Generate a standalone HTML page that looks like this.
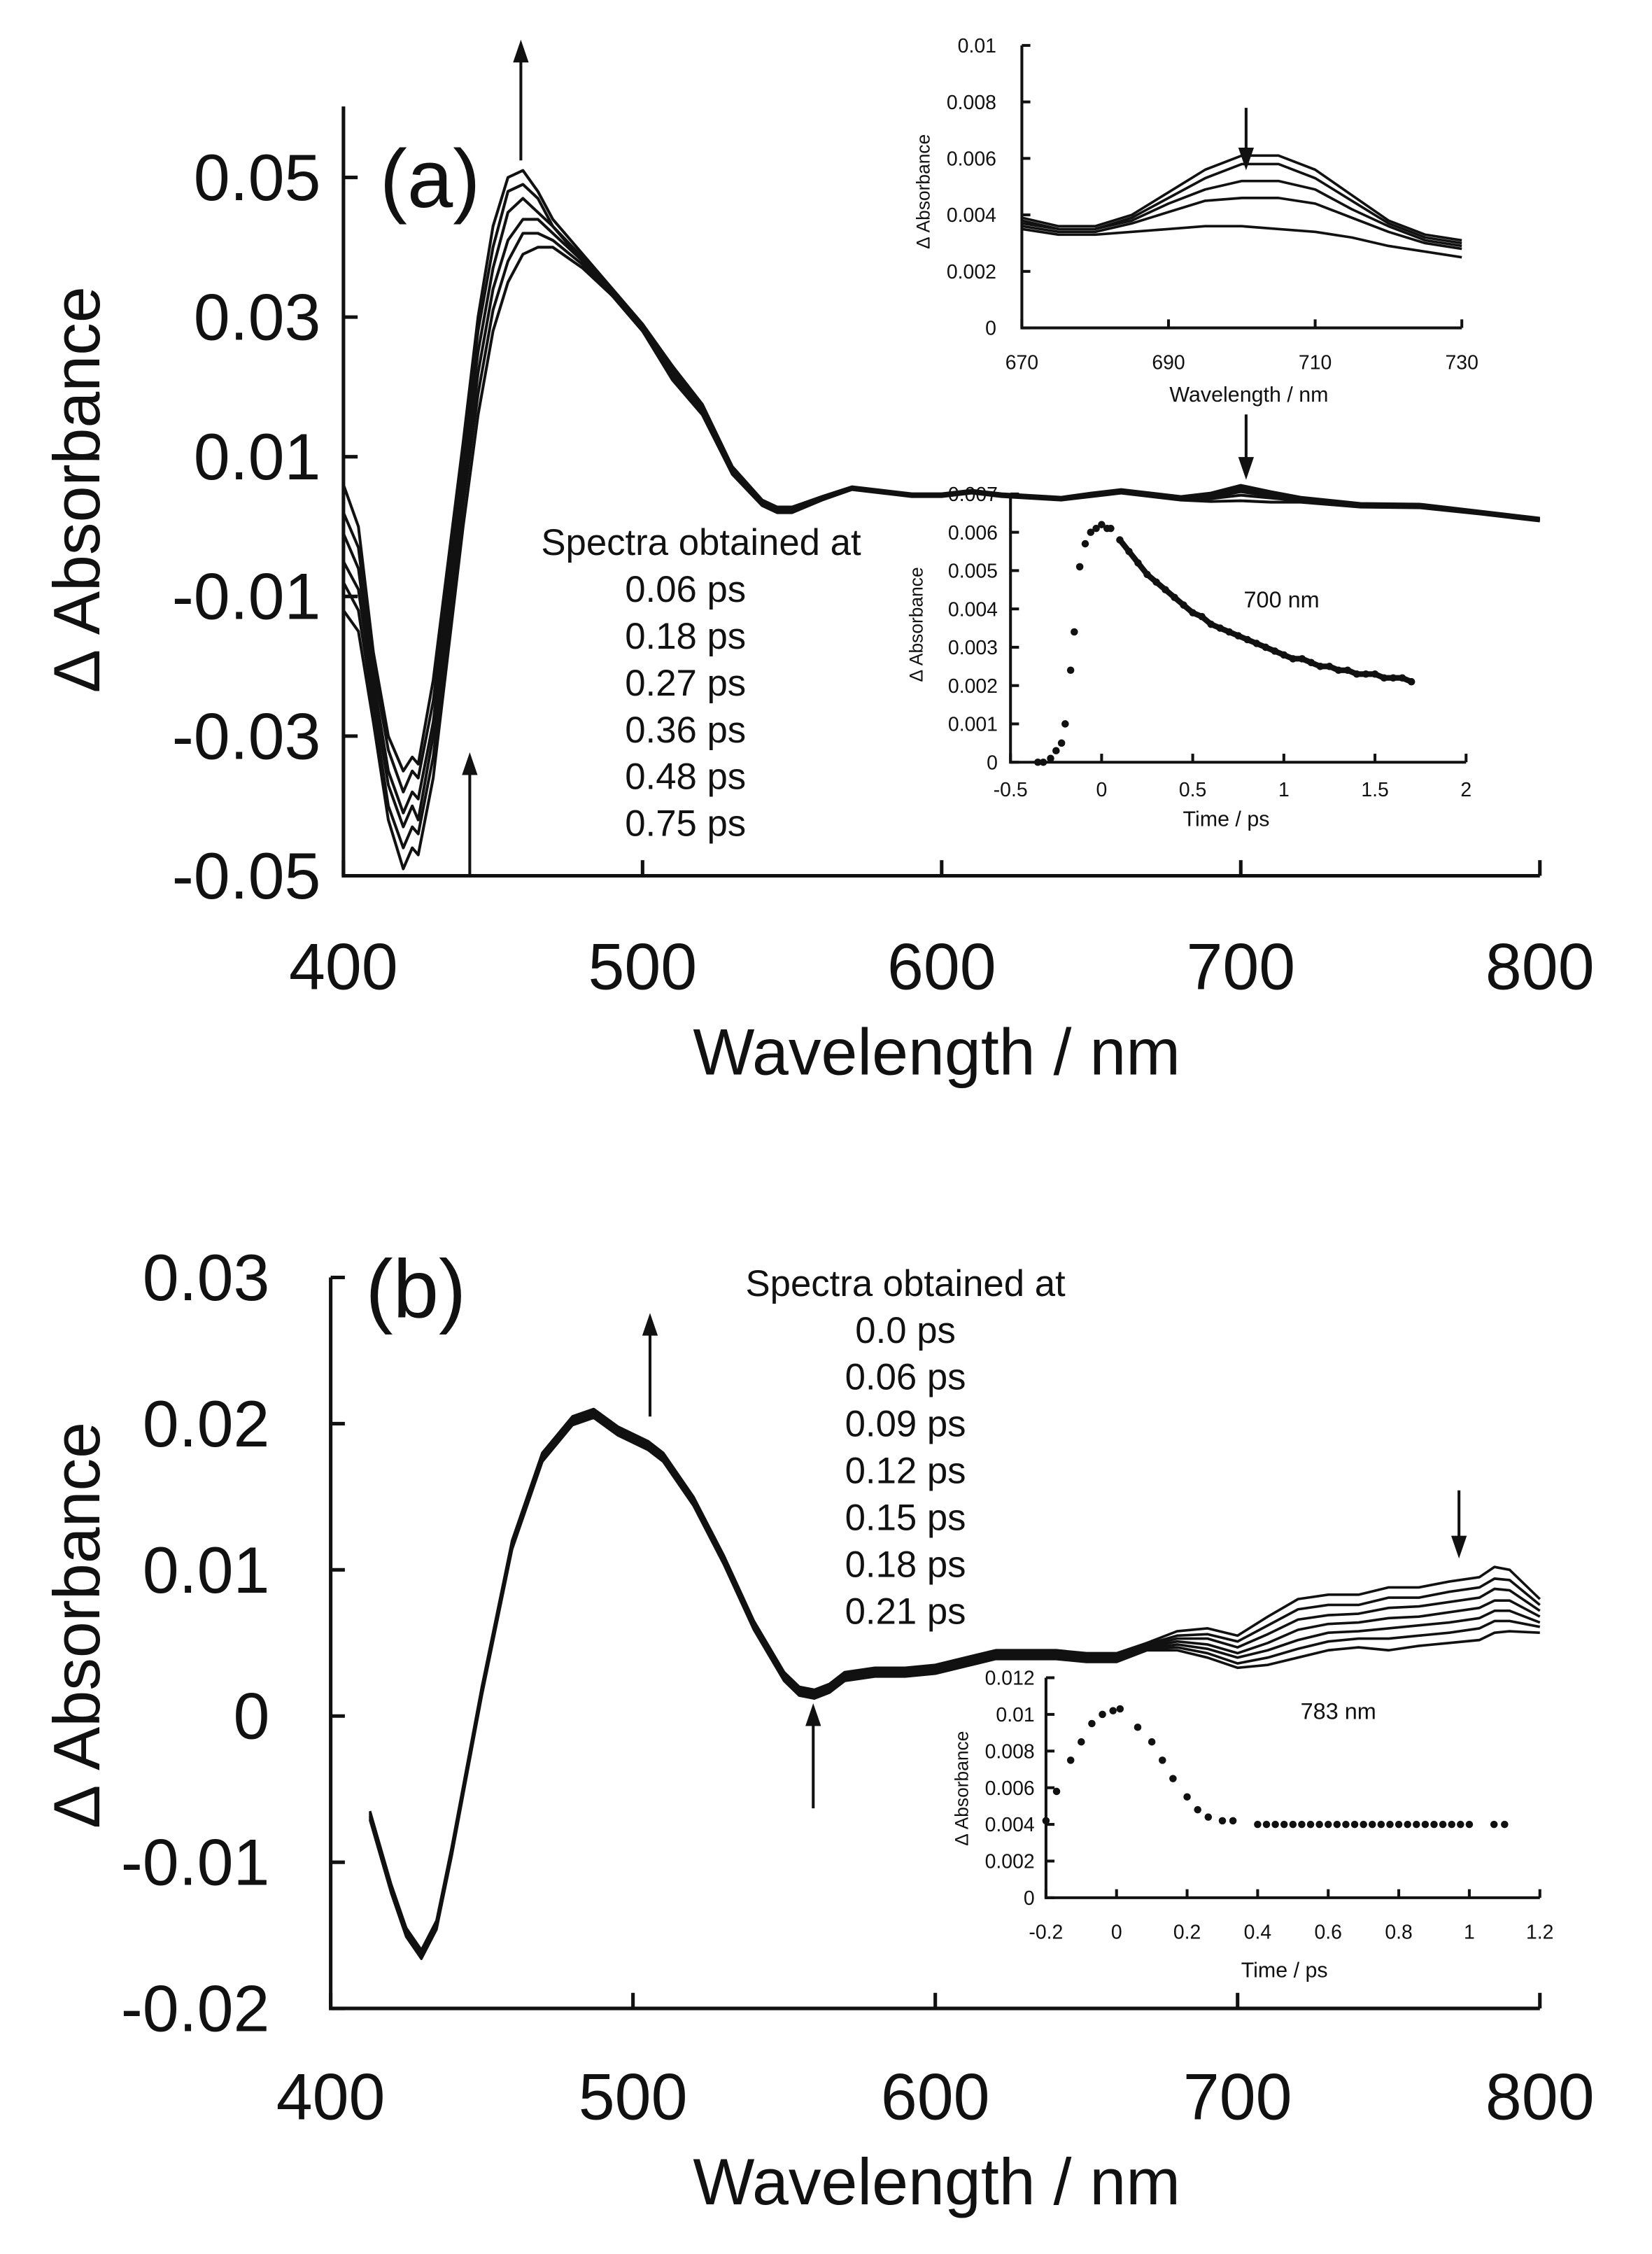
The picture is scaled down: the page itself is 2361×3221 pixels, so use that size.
<!DOCTYPE html>
<html><head><meta charset="utf-8"><style>
html,body{margin:0;padding:0;background:#fff;}
svg{display:block;}
text{font-family:"Liberation Sans",sans-serif;fill:#111;}
</style></head><body>
<svg id="fig" width="2361" height="3221" viewBox="0 0 1164 1588" preserveAspectRatio="none" xmlns="http://www.w3.org/2000/svg">
</svg>
<script>
// ---------- Panel (a) data ----------
const aWlHead=[400,405,410,415,420,423,425,430,435,440,445,450,455,460,465,470];
const aHead0=[-0.012,-0.015,-0.028,-0.042,-0.049,-0.046,-0.047,-0.036,-0.018,0.000,0.016,0.028,0.035,0.039,0.040,0.040];
const aHead1=[-0.008,-0.012,-0.026,-0.040,-0.046,-0.043,-0.044,-0.033,-0.015,0.003,0.019,0.031,0.038,0.042,0.042,0.041];
const aHead2=[-0.005,-0.009,-0.024,-0.037,-0.043,-0.040,-0.042,-0.030,-0.013,0.005,0.022,0.034,0.041,0.044,0.044,0.042];
const aHead3=[-0.001,-0.006,-0.022,-0.035,-0.041,-0.038,-0.039,-0.028,-0.010,0.008,0.025,0.037,0.045,0.047,0.045,0.043];
const aHead4=[0.002,-0.003,-0.020,-0.032,-0.038,-0.035,-0.036,-0.025,-0.008,0.010,0.028,0.040,0.048,0.049,0.047,0.043];
const aHead5=[0.006,0.000,-0.018,-0.030,-0.035,-0.033,-0.034,-0.022,-0.005,0.012,0.030,0.043,0.050,0.051,0.048,0.044];
const aWlTail=[480,490,500,510,520,530,540,545,550,560,570,580,590,600,610,620,640,650,660,680,690,700,710,720,740,760,780,790,800];
const aTail0=[0.037,0.033,0.028,0.021,0.016,0.0075,0.003,0.002,0.002,0.0038,0.0053,0.0048,0.0043,0.0043,0.0048,0.0043,0.0038,0.0043,0.0048,0.0038,0.0036,0.0037,0.0035,0.0035,0.0028,0.0027,0.0018,0.0013,0.0008];
const aTail1=[0.0375,0.033,0.028,0.0215,0.0163,0.0078,0.0033,0.0022,0.0022,0.0039,0.0054,0.0049,0.0044,0.0044,0.0049,0.0044,0.0039,0.0044,0.0049,0.0039,0.004,0.0045,0.0041,0.0037,0.0029,0.0028,0.0019,0.0014,0.0009];
const aTail2=[0.038,0.033,0.028,0.022,0.0167,0.008,0.0035,0.0025,0.0025,0.004,0.0055,0.005,0.0045,0.0045,0.005,0.0045,0.004,0.0045,0.005,0.004,0.0042,0.005,0.0044,0.0039,0.003,0.003,0.002,0.0015,0.001];
const aTail3=[0.038,0.0333,0.0283,0.0222,0.017,0.0082,0.0036,0.0026,0.0026,0.0041,0.0056,0.005,0.0045,0.0045,0.005,0.0045,0.004,0.0046,0.0051,0.0041,0.0044,0.0053,0.0046,0.004,0.0031,0.003,0.002,0.0015,0.001];
const aTail4=[0.0385,0.0335,0.0285,0.0225,0.0172,0.0084,0.0037,0.0027,0.0027,0.0042,0.0056,0.0051,0.0046,0.0046,0.0051,0.0046,0.0041,0.0047,0.0052,0.0042,0.0046,0.0056,0.0048,0.0041,0.0032,0.0031,0.0021,0.0016,0.0011];
const aTail5=[0.039,0.034,0.029,0.023,0.0175,0.0086,0.0038,0.0028,0.0028,0.0043,0.0057,0.0052,0.0047,0.0047,0.0052,0.0047,0.0042,0.0048,0.0053,0.0043,0.0048,0.0059,0.005,0.0042,0.0033,0.0032,0.0022,0.0017,0.0012];
const aYTicks=[0.05,0.03,0.01,-0.01,-0.03,-0.05];
const aYTickLabels=["0.05","0.03","0.01","-0.01","-0.03","-0.05"];
const aXTicks=[400,500,600,700,800];
const aTimes=["0.06 ps","0.18 ps","0.27 ps","0.36 ps","0.48 ps","0.75 ps"];

// inset a1
const i1Wl=[670,675,680,685,690,695,700,705,710,715,720,725,730];
const i1S0=[0.0039,0.0036,0.0036,0.0040,0.0048,0.0056,0.0061,0.0061,0.0056,0.0047,0.0038,0.0033,0.0031];
const i1S1=[0.0038,0.0035,0.0035,0.0039,0.0046,0.0053,0.0058,0.0058,0.0053,0.0045,0.0037,0.0032,0.0030];
const i1S2=[0.0037,0.0035,0.0035,0.0038,0.0044,0.0049,0.0052,0.0052,0.0049,0.0042,0.0036,0.0031,0.0029];
const i1S3=[0.0036,0.0034,0.0034,0.0037,0.0041,0.0045,0.0046,0.0046,0.0044,0.0039,0.0034,0.0030,0.0028];
const i1S4=[0.0035,0.0033,0.0033,0.0034,0.0035,0.0036,0.0036,0.0035,0.0034,0.0032,0.0029,0.0027,0.0025];
const i1YTicks=[0,0.002,0.004,0.006,0.008,0.01];
const i1YLabels=["0","0.002","0.004","0.006","0.008","0.01"];
const i1XTicks=[670,690,710,730];

// inset a2 (700 nm kinetics)
const i2T=[-0.35,-0.32,-0.28,-0.25,-0.22,-0.2,-0.17,-0.15,-0.12,-0.09,-0.06,-0.03,0,0.03,0.05,0.1,0.15,0.2,0.25,0.3,0.35,0.4,0.45,0.5,0.55,0.6,0.65,0.7,0.75,0.8,0.85,0.9,0.95,1.0,1.05,1.1,1.15,1.2,1.25,1.3,1.35,1.4,1.45,1.5,1.55,1.6,1.65,1.7];
const i2V=[0,0,0.0001,0.0003,0.0005,0.001,0.0024,0.0034,0.0051,0.0057,0.006,0.0061,0.0062,0.0061,0.0061,0.0058,0.0055,0.0052,0.0049,0.0047,0.0045,0.0043,0.0041,0.0039,0.0038,0.0036,0.0035,0.0034,0.0033,0.0032,0.0031,0.003,0.0029,0.0028,0.0027,0.0027,0.0026,0.0025,0.0025,0.0024,0.0024,0.0023,0.0023,0.0023,0.0022,0.0022,0.0022,0.0021];
const i2YTicks=[0,0.001,0.002,0.003,0.004,0.005,0.006,0.007];
const i2YLabels=["0","0.001","0.002","0.003","0.004","0.005","0.006","0.007"];
const i2XTicks=[-0.5,0,0.5,1,1.5,2];
const i2XLabels=["-0.5","0","0.5","1","1.5","2"];

// ---------- Panel (b) data ----------
const bWlHead=[413,420,425,430,435,440,450,460,470,480,487,495,505,510,520,530,540,550,555,560,565,570,580,590,600,610,620,630,640,650,660];
const bHead=[-0.0065,-0.0115,-0.0145,-0.016,-0.014,-0.009,0.002,0.012,0.018,0.0205,0.021,0.0198,0.0188,0.018,0.015,0.011,0.0065,0.003,0.002,0.0018,0.0022,0.003,0.0033,0.0033,0.0035,0.004,0.0045,0.0045,0.0045,0.0043,0.0043];
const bWlTail=[670,680,690,700,710,720,730,740,750,760,770,780,785,790,800];
const bTail0=[0.0050,0.0058,0.0060,0.0055,0.0068,0.0080,0.0083,0.0083,0.0088,0.0088,0.0092,0.0095,0.0102,0.0100,0.0080];
const bTail1=[0.0049,0.0055,0.0056,0.0051,0.0062,0.0073,0.0076,0.0076,0.0081,0.0081,0.0085,0.0088,0.0094,0.0093,0.0076];
const bTail2=[0.0048,0.0053,0.0053,0.0047,0.0056,0.0066,0.0069,0.0070,0.0074,0.0075,0.0078,0.0081,0.0087,0.0086,0.0072];
const bTail3=[0.0047,0.0051,0.0049,0.0043,0.0050,0.0059,0.0063,0.0064,0.0067,0.0068,0.0071,0.0074,0.0079,0.0079,0.0068];
const bTail4=[0.0046,0.0049,0.0046,0.0040,0.0045,0.0052,0.0057,0.0058,0.0060,0.0062,0.0064,0.0067,0.0072,0.0072,0.0064];
const bTail5=[0.0046,0.0047,0.0043,0.0036,0.0040,0.0046,0.0051,0.0053,0.0053,0.0055,0.0057,0.0060,0.0065,0.0065,0.0061];
const bTail6=[0.0045,0.0045,0.0040,0.0033,0.0035,0.0040,0.0045,0.0047,0.0045,0.0048,0.0050,0.0052,0.0057,0.0058,0.0057];
const bYTicks=[0.03,0.02,0.01,0,-0.01,-0.02];
const bYTickLabels=["0.03","0.02","0.01","0","-0.01","-0.02"];
const bXTicks=[400,500,600,700,800];
const bTimes=["0.0 ps","0.06 ps","0.09 ps","0.12 ps","0.15 ps","0.18 ps","0.21 ps"];

// inset b (783 nm kinetics)
const i3T=[-0.2,-0.17,-0.13,-0.1,-0.07,-0.04,-0.01,0.01,0.06,0.1,0.13,0.16,0.2,0.23,0.26,0.3,0.33,0.4,0.425,0.45,0.475,0.5,0.525,0.55,0.575,0.6,0.625,0.65,0.675,0.7,0.725,0.75,0.775,0.8,0.825,0.85,0.875,0.9,0.925,0.95,0.975,1.0,1.07,1.1];
const i3V=[0.0042,0.0058,0.0075,0.0085,0.0095,0.0100,0.0102,0.0103,0.0093,0.0085,0.0075,0.0065,0.0055,0.0048,0.0044,0.0042,0.0042,0.004,0.004,0.004,0.004,0.004,0.004,0.004,0.004,0.004,0.004,0.004,0.004,0.004,0.004,0.004,0.004,0.004,0.004,0.004,0.004,0.004,0.004,0.004,0.004,0.004,0.004,0.004];
const i3YTicks=[0,0.002,0.004,0.006,0.008,0.01,0.012];
const i3YLabels=["0","0.002","0.004","0.006","0.008","0.01","0.012"];
const i3XTicks=[-0.2,0,0.2,0.4,0.6,0.8,1,1.2];
const i3XLabels=["-0.2","0","0.2","0.4","0.6","0.8","1","1.2"];

const NS="http://www.w3.org/2000/svg";
const svg=document.getElementById('fig');
function mk(tag,attrs,parent){const e=document.createElementNS(NS,tag);for(const k in attrs)e.setAttribute(k,attrs[k]);(parent||svg).appendChild(e);return e;}
function lin(d0,d1,r0,r1){return v=>r0+(v-d0)*(r1-r0)/(d1-d0);}
function axesBox(x0,x1,y0,y1,sw){
  const g=mk('g',{});
  
  
  mk('path',{d:`M${x0},${y0} L${x0},${y1} L${x1},${y1}`,fill:'none',stroke:'#111','stroke-width':sw},g);
  return g;
}
function txt(x,y,s,size,anchor,parent,name){
  const t=mk('text',{x:x,y:y,'font-size':size,'text-anchor':anchor||'middle'},parent);
  t.textContent=s;
  
  
  return t;
}
function line(xs,ys,sx,sy,sw,name){
  let d='';for(let i=0;i<xs.length;i++)d+=(i?'L':'M')+sx(xs[i]).toFixed(2)+','+sy(ys[i]).toFixed(2);
  const p=mk('path',{d:d,fill:'none',stroke:'#111','stroke-width':sw,'stroke-linejoin':'round'});
  
  
  return p;
}
function arrow(x,y1,y2,name){
  const g=mk('g',{});
  
  
  const dir=y2<y1?1:-1, h=16, w=5.5;
  mk('line',{x1:x,y1:y1,x2:x,y2:y2+dir*h*0.7,stroke:'#111','stroke-width':2},g);
  mk('polygon',{points:`${x},${y2} ${x-w},${y2+dir*h} ${x+w},${y2+dir*h}`,fill:'#111'},g);
}

// ===== Panel a =====
{
  const sx=lin(400,800,242,1085), sy=lin(0.05,-0.05,125,617);
  const g=axesBox(242,1085,75,617,2.5);
  aYTicks.forEach((v,i)=>{mk('line',{x1:242,x2:252,y1:sy(v),y2:sy(v),stroke:'#111','stroke-width':2.5},g);
    txt(226,sy(v)+16,aYTickLabels[i],46,'end',g,'y-tick-label');});
  aXTicks.forEach(v=>{mk('line',{x1:sx(v),x2:sx(v),y1:617,y2:606,stroke:'#111','stroke-width':2.5},g);
    txt(sx(v),697,String(v),46,'middle',g,'x-tick-label');});
  txt(660,757,'Wavelength / nm',46,'middle',null,'x-axis-title');
  const yt=txt(0,0,'Δ Absorbance',46,'middle',null,'y-axis-title');yt.setAttribute('transform','translate(70,345) rotate(-90)');
  txt(303,146,'(a)',58,'middle',null,'panel-label-a');
  const heads=[aHead0,aHead1,aHead2,aHead3,aHead4,aHead5], tails=[aTail0,aTail1,aTail2,aTail3,aTail4,aTail5];
  heads.forEach((h,k)=>{line(aWlHead.concat(aWlTail),h.concat(tails[k]),sx,sy,2,'spectrum-a-'+k);});
  txt(494,391,'Spectra obtained at',26,'middle',null,'legend-title-a');
  aTimes.forEach((s,i)=>txt(483,424+i*33,s,26,'middle',null,'legend-entry'));
  arrow(367,113,28,'arrow-up-460');
  arrow(331,617,530,'arrow-up-443');
  arrow(878,292,338,'arrow-down-700');
  // inset 1
  const ix=lin(670,730,720,1030), iy=lin(0,0.01,231,32);
  const g1=axesBox(720,1030,32,231,2);
  i1YTicks.forEach((v,i)=>{mk('line',{x1:720,x2:726,y1:iy(v),y2:iy(v),stroke:'#111','stroke-width':2},g1);
    txt(702,iy(v)+5,i1YLabels[i],14,'end',g1,'inset-y-tick-label');});
  i1XTicks.forEach(v=>{mk('line',{x1:ix(v),x2:ix(v),y1:231,y2:225,stroke:'#111','stroke-width':2},g1);
    txt(ix(v),260,String(v),14,'middle',g1,'inset-x-tick-label');});
  txt(880,283,'Wavelength / nm',15,'middle',null,'inset-x-title');
  const it=txt(0,0,'Δ Absorbance',13,'middle',null,'inset-y-title');it.setAttribute('transform','translate(655,135) rotate(-90)');
  [i1S0,i1S1,i1S2,i1S3,i1S4].forEach((s,k)=>line(i1Wl,s,ix,iy,1.8,'inset-spectrum-'+k));
  arrow(878,76,120,'inset-arrow-down');
  // inset 2
  const tx=lin(-0.5,2,712,1033), ty=lin(0,0.007,537,348);
  const g2=axesBox(712,1033,348,537,2);
  i2YTicks.forEach((v,i)=>{mk('line',{x1:712,x2:718,y1:ty(v),y2:ty(v),stroke:'#111','stroke-width':2},g2);
    txt(703,ty(v)+5,i2YLabels[i],14,'end',g2,'inset-y-tick-label');});
  i2XTicks.forEach((v,i)=>{mk('line',{x1:tx(v),x2:tx(v),y1:537,y2:531,stroke:'#111','stroke-width':2},g2);
    txt(tx(v),561,i2XLabels[i],14,'middle',g2,'inset-x-tick-label');});
  txt(864,582,'Time / ps',15,'middle',null,'inset-x-title');
  const it2=txt(0,0,'Δ Absorbance',13,'middle',null,'inset-y-title');it2.setAttribute('transform','translate(650,440) rotate(-90)');
  txt(903,428,'700 nm',16,'middle',null,'inset-annotation');
  const dT=[],dV=[];i2T.forEach((t,i)=>{if(t>=0.1){dT.push(t);dV.push(i2V[i]);}});
  line(dT,dV,tx,ty,4,'kinetic-trace-700');
  i2T.forEach((t,i)=>{const c=mk('circle',{cx:tx(t),cy:ty(i2V[i]),r:2.6,fill:'#111'});
    
    });
}

// ===== Panel b =====
{
  const sx=lin(400,800,233,1085), sy=lin(0.03,-0.02,900,1415);
  const g=axesBox(233,1085,900,1415,2.5);
  bYTicks.forEach((v,i)=>{mk('line',{x1:233,x2:243,y1:sy(v),y2:sy(v),stroke:'#111','stroke-width':2.5},g);
    txt(190,sy(v)+16,bYTickLabels[i],46,'end',g,'y-tick-label');});
  bXTicks.forEach(v=>{mk('line',{x1:sx(v),x2:sx(v),y1:1415,y2:1404,stroke:'#111','stroke-width':2.5},g);
    txt(sx(v),1493,String(v),46,'middle',g,'x-tick-label');});
  txt(660,1553,'Wavelength / nm',46,'middle',null,'x-axis-title');
  const yt=txt(0,0,'Δ Absorbance',46,'middle',null,'y-axis-title');yt.setAttribute('transform','translate(70,1145) rotate(-90)');
  txt(293,928,'(b)',58,'middle',null,'panel-label-b');
  const tails=[bTail0,bTail1,bTail2,bTail3,bTail4,bTail5,bTail6];
  const offs=[0,0.0001,0.0002,0.0003,0.0004,0.0005,0.0006];
  tails.forEach((t,k)=>{
    line(bWlHead.concat(bWlTail),bHead.map(v=>v-offs[k]).concat(t),sx,sy,1.8,'spectrum-b-'+k);});
  txt(638,913,'Spectra obtained at',26,'middle',null,'legend-title-b');
  bTimes.forEach((s,i)=>txt(638,946+i*33,s,26,'middle',null,'legend-entry'));
  arrow(458,998,925,'arrow-up-505');
  arrow(573,1274,1200,'arrow-up-560');
  arrow(1028,1050,1098,'arrow-down-785');
  // inset b
  const tx=lin(-0.2,1.2,737,1085), ty=lin(0,0.012,1337,1182);
  const g3=axesBox(737,1085,1182,1337,2);
  i3YTicks.forEach((v,i)=>{mk('line',{x1:737,x2:743,y1:ty(v),y2:ty(v),stroke:'#111','stroke-width':2},g3);
    txt(729,ty(v)+5,i3YLabels[i],14,'end',g3,'inset-y-tick-label');});
  i3XTicks.forEach((v,i)=>{mk('line',{x1:tx(v),x2:tx(v),y1:1337,y2:1331,stroke:'#111','stroke-width':2},g3);
    txt(tx(v),1366,i3XLabels[i],14,'middle',g3,'inset-x-tick-label');});
  txt(905,1393,'Time / ps',15,'middle',null,'inset-x-title');
  const it3=txt(0,0,'Δ Absorbance',13,'middle',null,'inset-y-title');it3.setAttribute('transform','translate(682,1260) rotate(-90)');
  txt(943,1211,'783 nm',16,'middle',null,'inset-annotation');
  i3T.forEach((t,i)=>{const c=mk('circle',{cx:tx(t),cy:ty(i3V[i]),r:2.6,fill:'#111'});
    
    });
}
</script>
</body></html>
